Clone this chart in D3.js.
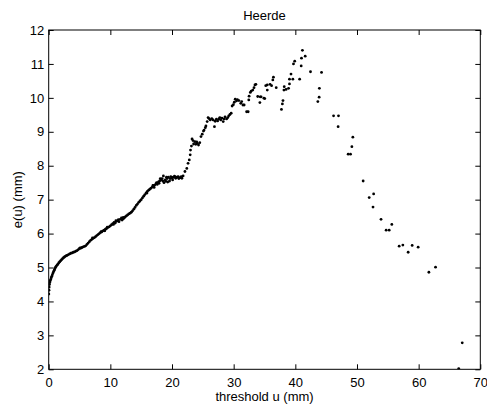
<!DOCTYPE html>
<html>
<head>
<meta charset="utf-8">
<script src="https://cdn.jsdelivr.net/npm/d3@7"></script>
<style>
  html, body { margin: 0; padding: 0; background: #fff; }
  svg { display: block; }
  text { font-family: "Liberation Sans", Arial, Helvetica, sans-serif; fill: #000; }
</style>
</head>
<body>
<svg id="chart" width="487" height="408"></svg>
<script>
// ---- data ----
const chartTitle = "Heerde";
const xLabel = "threshold u (mm)";
const yLabel = "e(u) (mm)";
const xTicks = [0, 10, 20, 30, 40, 50, 60, 70];
const yTicks = [2, 3, 4, 5, 6, 7, 8, 9, 10, 11, 12];

// threshold u (mm)
const thresholdU = [
  0.02, 0.05, 0.08, 0.12, 0.18, 0.25, 0.33, 0.42, 0.5, 0.6, 0.7, 0.8, 0.9, 1.0, 1.1, 1.2, 1.35, 1.5, 1.65, 1.8,
  1.95, 2.1, 2.25, 2.4, 2.55, 2.7, 2.85, 3.0, 3.2, 3.4, 3.6, 3.8, 4.0, 4.2, 4.4, 4.6, 4.8, 5.0, 5.2, 5.4,
  5.6, 5.8, 6.0, 6.2, 6.4, 6.6, 6.8, 7.0, 7.2, 7.4, 7.6, 7.8, 8.0, 8.2, 8.4, 8.6, 8.8, 9.0, 9.2, 9.4,
  9.6, 9.8, 10.0, 10.2, 10.4, 10.6, 10.8, 11.0, 11.2, 11.4, 11.6, 11.8, 12.0, 12.2, 12.4, 12.6, 12.8, 13.0, 13.2, 13.4,
  13.6, 13.8, 14.0, 14.2, 14.4, 14.6, 14.8, 15.0, 15.2, 15.4, 15.6, 15.8, 16.0, 16.2, 16.4, 16.6, 16.8, 17.0, 17.2, 17.4,
  17.6, 17.8, 18.0, 18.2, 18.4, 18.6, 18.7, 18.9, 19.0, 19.2, 19.4, 19.6, 19.8, 20.0, 20.2, 20.4, 20.6, 20.8, 21.0, 21.2,
  21.4, 21.6, 21.8, 22.1, 22.4, 22.6, 22.8, 22.95, 23.0, 23.15, 23.25, 23.4, 23.5, 23.7, 23.85, 24.0, 24.1, 24.3, 24.5, 24.7,
  24.9, 25.1, 25.2, 25.4, 25.5, 25.7, 25.85, 26.0, 26.2, 26.45, 26.66, 26.88, 27.0, 27.2, 27.4, 27.6, 27.75, 27.9, 28.1, 28.3,
  28.45, 28.6, 28.85, 29.05, 29.2, 29.4, 29.6, 29.75, 29.95, 30.1, 30.25, 30.45, 30.6, 30.85, 31.15, 31.3, 31.5, 31.7, 32.1, 32.35,
  32.45, 32.5, 32.7, 32.85, 33.1, 33.3, 33.45, 33.6, 33.9, 34.25, 34.3, 34.45, 34.9, 35.05, 35.2, 35.45, 35.45, 35.9, 36.15, 36.35,
  36.45, 36.9, 37.75, 37.9, 38.0, 38.15, 38.2, 38.5, 38.9, 39.05, 39.05, 39.3, 39.6, 39.7, 39.9, 40.7, 40.95, 41.0, 41.15, 41.6,
  42.46, 43.65, 43.86, 43.9, 44.25, 46.2, 46.94, 47.0, 48.57, 48.95, 49.17, 49.33, 51.0, 51.98, 52.6, 52.7, 53.9, 54.73, 55.22, 55.65,
  56.84, 57.44, 58.3, 58.95, 59.92, 61.66, 62.74, 66.5, 67.07,
  5.1, 7.1, 8.5, 9.1, 9.5, 10.5, 10.9, 11.3, 11.9, 12.1, 15.9, 16.9, 17.1, 17.5, 17.9, 18.1, 18.5, 19.1, 19.3, 19.7,
  20.1, 20.5, 21.1, 21.5
];

// mean excess e(u) (mm)
const meanExcess = [
  4.22, 4.33, 4.42, 4.50, 4.56, 4.61, 4.65, 4.70, 4.74, 4.79, 4.84, 4.88, 4.92, 4.96, 5.00, 5.03, 5.07, 5.10, 5.14, 5.17,
  5.20, 5.23, 5.26, 5.29, 5.31, 5.33, 5.35, 5.36, 5.38, 5.40, 5.42, 5.43, 5.45, 5.46, 5.48, 5.50, 5.53, 5.56, 5.57, 5.59,
  5.61, 5.62, 5.64, 5.68, 5.72, 5.76, 5.80, 5.83, 5.86, 5.88, 5.91, 5.94, 5.97, 6.00, 6.03, 6.05, 6.08, 6.10, 6.13, 6.15,
  6.18, 6.20, 6.23, 6.26, 6.29, 6.33, 6.31, 6.36, 6.38, 6.35, 6.42, 6.46, 6.43, 6.45, 6.49, 6.52, 6.55, 6.58, 6.60, 6.63,
  6.67, 6.72, 6.77, 6.83, 6.87, 6.92, 6.96, 7.00, 7.05, 7.10, 7.15, 7.20, 7.24, 7.28, 7.31, 7.34, 7.37, 7.41, 7.43, 7.47,
  7.45, 7.52, 7.55, 7.58, 7.62, 7.70, 7.50, 7.58, 7.54, 7.62, 7.66, 7.55, 7.68, 7.64, 7.66, 7.69, 7.63, 7.66, 7.68, 7.64,
  7.65, 7.63, 7.70, 7.83, 7.92, 8.07, 8.17, 8.32, 8.46, 8.58, 8.79, 8.74, 8.64, 8.71, 8.63, 8.70, 8.66, 8.61, 8.68, 8.86,
  8.93, 9.02, 9.05, 9.12, 9.17, 9.30, 9.42, 9.39, 9.35, 9.39, 9.35, 9.15, 9.31, 9.37, 9.32, 9.38, 9.42, 9.35, 9.40, 9.30,
  9.38, 9.44, 9.38, 9.42, 9.47, 9.51, 9.55, 9.76, 9.80, 9.87, 9.96, 9.91, 9.95, 9.92, 9.84, 9.89, 9.79, 9.79, 9.59, 9.59,
  9.94, 10.05, 10.16, 10.20, 10.23, 10.30, 10.38, 10.40, 10.04, 9.86, 10.03, 10.03, 9.99, 9.98, 10.36, 10.23, 10.38, 10.40, 10.36, 10.53,
  10.61, 10.30, 9.66, 9.82, 9.92, 10.23, 10.33, 10.25, 10.28, 10.41, 10.55, 10.70, 10.55, 11.00, 11.08, 10.55, 10.94, 11.17, 11.40, 11.23,
  10.77, 9.89, 10.02, 10.28, 10.75, 9.47, 9.15, 9.47, 8.34, 8.34, 8.56, 8.84, 7.55, 7.06, 6.78, 7.17, 6.42, 6.10, 6.10, 6.27,
  5.63, 5.66, 5.45, 5.65, 5.60, 4.86, 5.01, 2.02, 2.78,
  5.58, 5.87, 6.06, 6.08, 6.19, 6.27, 6.38, 6.41, 6.40, 6.48, 7.19, 7.42, 7.36, 7.50, 7.48, 7.62, 7.55, 7.66, 7.52, 7.62,
  7.58, 7.67, 7.62, 7.68
];

// ---- drawing ----
const W = 487, H = 408;
const margin = { top: 30, right: 6.7, bottom: 38.7, left: 48.7 };
const iw = W - margin.left - margin.right;
const ih = H - margin.top - margin.bottom;

const svg = d3.select("#chart");
const g = svg.append("g").attr("transform", `translate(${margin.left},${margin.top})`);

const x = d3.scaleLinear().domain([0, 70]).range([0, iw]);
const y = d3.scaleLinear().domain([2, 12]).range([ih, 0]);

const fontSize = 13;
const tickLen = 5;

// points
const pts = thresholdU.map((u, i) => ({ u, e: meanExcess[i] }));
const clipId = "plotclip";
svg.append("defs").append("clipPath").attr("id", clipId)
  .append("rect").attr("x", 0).attr("y", 0).attr("width", iw).attr("height", ih);

g.append("g").attr("clip-path", `url(#${clipId})`)
  .selectAll("circle").data(pts).join("circle")
  .attr("cx", d => x(d.u))
  .attr("cy", d => y(d.e))
  .attr("r", 1.4)
  .attr("fill", "#000");

// axes
function styleAxis(sel, showLabels) {
  sel.select(".domain").remove();
  sel.selectAll(".tick line").attr("stroke", "#000").attr("stroke-width", 1);
  sel.selectAll(".tick text").attr("font-size", fontSize)
    .attr("font-family", '"Liberation Sans", Arial, sans-serif')
    .style("display", showLabels ? null : "none");
}

g.append("g").attr("transform", `translate(0,${ih})`)
  .call(d3.axisBottom(x).tickValues(xTicks).tickSizeInner(-tickLen).tickSizeOuter(0).tickPadding(8).tickFormat(d3.format("d")))
  .call(s => styleAxis(s, true));

g.append("g")
  .call(d3.axisTop(x).tickValues(xTicks).tickSizeInner(-tickLen).tickSizeOuter(0).tickFormat(""))
  .call(s => styleAxis(s, false));

g.append("g")
  .call(d3.axisLeft(y).tickValues(yTicks).tickSizeInner(-tickLen).tickSizeOuter(0).tickPadding(4.5).tickFormat(d3.format("d")))
  .call(s => styleAxis(s, true));

g.append("g").attr("transform", `translate(${iw},0)`)
  .call(d3.axisRight(y).tickValues(yTicks).tickSizeInner(-tickLen).tickSizeOuter(0).tickFormat(""))
  .call(s => styleAxis(s, false));

// box
g.append("rect")
  .attr("x", 0).attr("y", 0).attr("width", iw).attr("height", ih)
  .attr("fill", "none").attr("stroke", "#000").attr("stroke-width", 1);

// labels
svg.append("text")
  .attr("x", margin.left + iw / 2).attr("y", 20)
  .attr("text-anchor", "middle").attr("font-size", fontSize)
  .text(chartTitle);

svg.append("text")
  .attr("x", margin.left + iw / 2).attr("y", 401)
  .attr("text-anchor", "middle").attr("font-size", fontSize)
  .text(xLabel);

svg.append("text")
  .attr("transform", `translate(22,${margin.top + ih / 2}) rotate(-90)`)
  .attr("text-anchor", "middle").attr("font-size", fontSize)
  .text(yLabel);
</script>
</body>
</html>
